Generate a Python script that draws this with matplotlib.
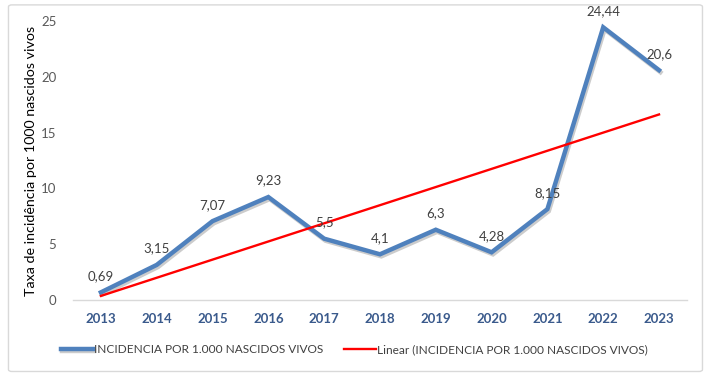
import matplotlib.pyplot as plt
import matplotlib.patheffects as pe
from matplotlib.patches import FancyBboxPatch
import numpy as np

years = ['2013', '2014', '2015', '2016', '2017', '2018', '2019', '2020', '2021', '2022', '2023']
incidence = [0.69, 3.15, 7.07, 9.23, 5.5, 4.1, 6.3, 4.28, 8.15, 24.44, 20.6]
labels = ['0,69', '3,15', '7,07', '9,23', '5,5', '4,1', '6,3', '4,28', '8,15', '24,44', '20,6']

plt.rcParams['font.family'] = ['Lato', 'DejaVu Sans']

fig = plt.figure(figsize=(7.06, 3.76), dpi=100)
ax = fig.add_axes([0.1034, 0.202, 0.8696, 0.742])

# chart border
fig.patches.append(FancyBboxPatch((0.012, 0.012), 0.983, 0.975, boxstyle='round,pad=0,rounding_size=0.005',
                                  transform=fig.transFigure, fill=False, edgecolor='#D9D9D9', linewidth=1))

x = np.arange(len(years))
ax.plot(x, incidence, color='#4F81BD', linewidth=3.2, solid_joinstyle='miter',
        path_effects=[pe.SimpleLineShadow(offset=(1, -1.5), shadow_color='#000000', alpha=0.2), pe.Normal()],
        label='INCIDENCIA POR 1.000 NASCIDOS VIVOS', zorder=3)

coef = np.polyfit(x, incidence, 1)
ax.plot(x, np.polyval(coef, x), color='#FF0000', linewidth=1.7,
        label='Linear (INCIDENCIA POR 1.000 NASCIDOS VIVOS)', zorder=4)

for xi, yi, lab in zip(x, incidence, labels):
    ax.annotate(lab, (xi, yi), xytext=(0, 7.5), textcoords='offset points', ha='center', va='bottom',
                fontsize=9.5, color='#404040', zorder=5)

ax.set_xlim(-0.5, len(years) - 0.5)
ax.set_ylim(0, 25)
ax.set_yticks([0, 5, 10, 15, 20, 25])
ax.set_xticks(x)
ax.set_xticklabels(years, fontweight='bold', color='#3A5A8C', fontsize=9.5)
ax.tick_params(axis='y', colors='#595959', labelsize=9.5, length=0, pad=12)
ax.tick_params(axis='x', length=0, pad=9)

for s in ['top', 'right', 'left']:
    ax.spines[s].set_visible(False)
ax.spines['bottom'].set_color('#D9D9D9')
ax.spines['bottom'].set_linewidth(1)

ax.set_ylabel('Taxa de incidência por 1000 nascidos vivos', fontsize=10.3, color='#000000', labelpad=3)

fig.legend(loc='center', bbox_to_anchor=(0.502, 0.07), ncol=2, frameon=False, fontsize=8.6,
           handlelength=2.7, handletextpad=0.1, columnspacing=1.7, labelcolor='#404040')

fig.savefig('out.png', dpi=100)
